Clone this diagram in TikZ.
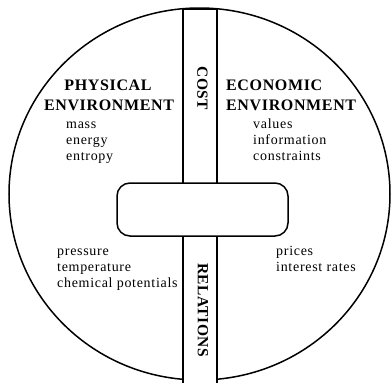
\documentclass[tikz,border=0pt]{standalone}
\usepackage{fontspec}
\setmainfont{Liberation Serif}
\newfontfamily\capsfont[LetterSpace=4]{Liberation Serif}
\newfontfamily\barfont[LetterSpace=3]{Liberation Serif}
\newfontfamily\smallfont[LetterSpace=5]{Liberation Serif}
\tikzset{
  caps/.style={font=\capsfont\bfseries\fontsize{16}{18}\selectfont, inner sep=0pt},
  barcaps/.style={font=\barfont\bfseries\fontsize{15.5}{16}\selectfont, inner sep=0pt, rotate=-90},
  lbl/.style={font=\smallfont\fontsize{14}{16}\selectfont, inner sep=0pt, anchor=base west},
  heavy/.style={line width=1.5pt},
}
\begin{document}
\begin{tikzpicture}[x=1pt,y=-1pt]
\useasboundingbox (0,0) rectangle (392,383);
% outer circle
\draw[heavy] (199.5pt,-194pt) ellipse [x radius=190.5pt, y radius=186pt];
% vertical bar
\fill[white] (183,9) rectangle (217,383);
\draw[heavy] (183,383) -- (183,9) -- (217,9) -- (217,383);
% central rounded box
\node (core) [draw, heavy, fill=white, rounded corners=13pt, minimum width=171pt, minimum height=53pt, inner sep=0pt] at (202.5,209.5) {};
% headings
\node (phys1) [caps, anchor=base] at (108,90) {PHYSICAL};
\node (phys2) [caps, anchor=base] at (109,110) {ENVIRONMENT};
\node (econ1) [caps, anchor=base west] at (226,90) {ECONOMIC};
\node (econ2) [caps, anchor=base west] at (226,110) {ENVIRONMENT};
\node (cost) [barcaps] at (202.5,88.5) {COST};
\node (rel) [barcaps] at (203,310) {RELATIONS};
% lists
\node (mass) [lbl] at (66,128) {mass};
\node (energy) [lbl] at (66,144) {energy};
\node (entropy) [lbl] at (66,160) {entropy};
\node (values) [lbl] at (253,128) {values};
\node (info) [lbl] at (253,144) {information};
\node (constr) [lbl] at (253,160) {constraints};
\node (press) [lbl] at (57,255) {pressure};
\node (temp) [lbl] at (57,271) {temperature};
\node (chem) [lbl] at (57,287) {chemical potentials};
\node (prices) [lbl] at (276,255) {prices};
\node (rates) [lbl] at (276,271) {interest rates};
\end{tikzpicture}
\end{document}
